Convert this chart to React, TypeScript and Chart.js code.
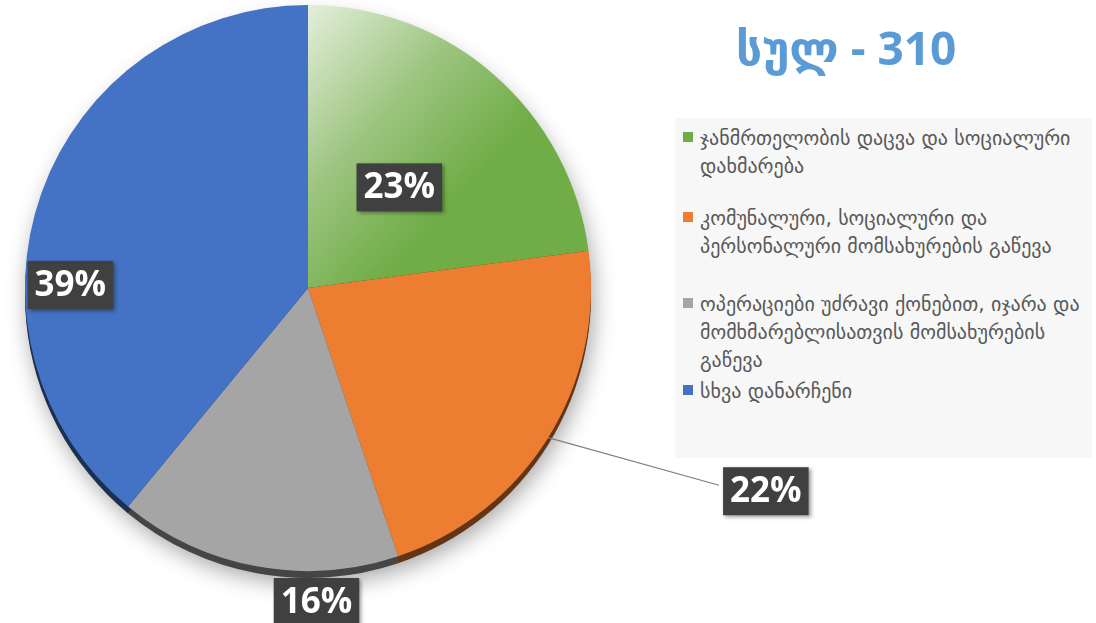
import React, { useEffect, useRef } from "react";
import { Chart, registerables } from "chart.js";

Chart.register(...registerables);

const categories = [
  "ჯანმრთელობის დაცვა და სოციალური დახმარება",
  "კომუნალური, სოციალური და პერსონალური მომსახურების გაწევა",
  "ოპერაციები უძრავი ქონებით, იჯარა და მომხმარებლისათვის მომსახურების გაწევა",
  "სხვა დანარჩენი",
];
const values = [71, 68, 50, 121];
const colors = ["#70AD47", "#ED7D31", "#A5A5A5", "#4472C4"];
const titlePrefix = "სულ - ";

const total = values.reduce((a, b) => a + b, 0);
const pctLabels = values.map((v) => Math.round((v / total) * 100) + "%");

function darken(hex: string, f: number) {
  const n = parseInt(hex.slice(1), 16);
  const r = Math.round(((n >> 16) & 255) * f);
  const g = Math.round(((n >> 8) & 255) * f);
  const b = Math.round((n & 255) * f);
  return `rgb(${r},${g},${b})`;
}

const labelLayout = [
  { f: 0.48, off: 1 },
  { f: 1.77, off: -8, leader: true },
  { f: 1.11, off: -12 },
  { f: 0.84, off: -19 },
];

const pieDecor = {
  id: "pieDecor",
  beforeDatasetsDraw(chart: any) {
    const ctx = chart.ctx;
    const arcs = chart.getDatasetMeta(0).data;
    if (!arcs.length) return;
    const { x, y, outerRadius } = arcs[0].getProps(["x", "y", "outerRadius"], true);
    ctx.save();
    ctx.shadowColor = "rgba(0,0,0,0.35)";
    ctx.shadowBlur = 22;
    ctx.shadowOffsetX = 3;
    ctx.shadowOffsetY = 8;
    ctx.beginPath();
    ctx.arc(x, y + 5, outerRadius, 0, Math.PI * 2);
    ctx.fillStyle = "#666";
    ctx.fill();
    ctx.restore();
    ctx.save();
    arcs.forEach((arc: any, i: number) => {
      const p = arc.getProps(["startAngle", "endAngle"], true);
      ctx.beginPath();
      ctx.moveTo(x, y + 7);
      ctx.arc(x, y + 7, outerRadius, p.startAngle, p.endAngle);
      ctx.closePath();
      ctx.fillStyle = darken(colors[i], 0.42);
      ctx.fill();
    });
    ctx.restore();
  },
  afterDatasetsDraw(chart: any) {
    const ctx = chart.ctx;
    const arcs = chart.getDatasetMeta(0).data;
    ctx.save();
    ctx.font = "bold 35px 'Open Sans', 'DejaVu Sans', sans-serif";
    ctx.textAlign = "center";
    ctx.textBaseline = "middle";
    arcs.forEach((arc: any, i: number) => {
      const p = arc.getProps(["x", "y", "startAngle", "endAngle", "outerRadius"], true);
      const lay = labelLayout[i];
      const mid = (p.startAngle + p.endAngle) / 2;
      const a = mid + (lay.off * Math.PI) / 180;
      const cx = p.x + Math.cos(a) * p.outerRadius * lay.f;
      const cy = p.y + Math.sin(a) * p.outerRadius * lay.f;
      const text = pctLabels[i];
      const w = ctx.measureText(text).width + 14;
      const h = 48;
      if (lay.leader) {
        ctx.beginPath();
        ctx.moveTo(p.x + Math.cos(mid) * p.outerRadius, p.y + Math.sin(mid) * p.outerRadius);
        ctx.lineTo(cx - w / 2 - 4, cy - 6);
        ctx.strokeStyle = "#7f7f7f";
        ctx.lineWidth = 1.2;
        ctx.stroke();
      }
      ctx.save();
      ctx.shadowColor = "rgba(0,0,0,0.4)";
      ctx.shadowBlur = 4;
      ctx.shadowOffsetX = 2;
      ctx.shadowOffsetY = 2;
      ctx.fillStyle = "#404040";
      ctx.fillRect(cx - w / 2, cy - h / 2, w, h);
      ctx.restore();
      ctx.fillStyle = "#ffffff";
      ctx.fillText(text, cx, cy + 1);
    });
    ctx.restore();
  },
};

export default function App() {
  const ref = useRef<HTMLCanvasElement | null>(null);
  useEffect(() => {
    document.body.style.margin = "0";
    if (!ref.current) return;
    const chart = new Chart(ref.current, {
      type: "pie",
      data: {
        labels: categories,
        datasets: [
          {
            data: values,
            backgroundColor: (c: any) => {
              const i = c.dataIndex;
              if (i !== 0) return colors[i];
              const ch = c.chart;
              const area = ch.chartArea;
              if (!area) return colors[0];
              const cxp = (area.left + area.right) / 2;
              const r = (area.bottom - area.top) / 2;
              const g = ch.ctx.createLinearGradient(cxp - 10, area.top + 5, cxp + r * 0.6, area.top + r * 0.6);
              g.addColorStop(0, "#e6f0de");
              g.addColorStop(0.55, "#9cc47f");
              g.addColorStop(1, "#70AD47");
              return g;
            },
            borderWidth: 0,
            hoverOffset: 0,
            offset: 0,
          },
        ],
      },
      options: {
        responsive: false,
        animation: false,
        layout: { padding: { left: 24, top: 5, right: 504, bottom: 52 } },
        plugins: {
          legend: { display: false },
          tooltip: { enabled: false },
          title: { display: false },
        },
      },
      plugins: [pieDecor],
    });
    return () => chart.destroy();
  }, []);

  const itemGaps = [0, 24, 30, 3];

  return (
    <div style={{ position: "absolute", left: 0, top: 0, width: 1096, height: 623, background: "#fff", overflow: "hidden" }}>
      <canvas ref={ref} width={1096} height={623} style={{ position: "absolute", left: 0, top: 0 }} />
      <div
        style={{
          position: "absolute",
          left: 736,
          top: 17,
          fontFamily: "'Open Sans', 'DejaVu Sans', sans-serif",
          fontWeight: 700,
          fontSize: 46,
          lineHeight: "60px",
          color: "#5B9BD5",
          whiteSpace: "nowrap",
        }}
      >
        {titlePrefix + total}
      </div>
      <div
        style={{
          position: "absolute",
          left: 675,
          top: 118,
          width: 417,
          height: 340,
          background: "#f7f7f7",
          boxSizing: "border-box",
          padding: "6px 2px 0 8px",
          fontFamily: "'DejaVu Sans', sans-serif",
          fontSize: 20,
          color: "#595959",
        }}
      >
        {categories.map((c, i) => (
          <div key={i} style={{ display: "flex", alignItems: "flex-start", marginTop: itemGaps[i] }}>
            <span
              style={{
                display: "inline-block",
                width: 10,
                height: 10,
                background: colors[i],
                marginTop: 8,
                marginRight: 7,
                flex: "0 0 auto",
              }}
            />
            <div style={{ lineHeight: "28px", flex: 1 }}>{c}</div>
          </div>
        ))}
      </div>
    </div>
  );
}
